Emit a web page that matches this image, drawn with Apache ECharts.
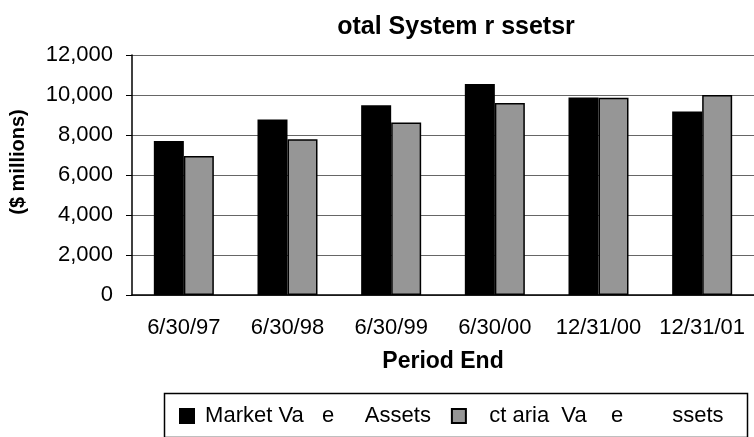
<!DOCTYPE html>
<html>
<head>
  <meta charset="utf-8">
  <script src="https://cdn.jsdelivr.net/npm/echarts@6/dist/echarts.min.js"></script>
  <style>
    html, body { margin: 0; padding: 0; background: #fff; }
    #chart { width: 754px; height: 437px; }
  </style>
</head>
<body>
  <div id="chart"></div>
  <script>
    // data
    var periods = ['6/30/97', '6/30/98', '6/30/99', '6/30/00', '12/31/00', '12/31/01'];
    var marketValue = [7700, 8780, 9490, 10550, 9880, 9170];
    var actuarialValue = [6950, 7790, 8630, 9600, 9860, 10000];
    var seriesNames = [' Market Va   e     Assets', '   ct aria  Va    e        ssets'];

    var font = "'Liberation Sans', Arial, sans-serif";
    var chart = echarts.init(document.getElementById('chart'), null, { renderer: 'canvas' });

    var option = {
      backgroundColor: '#fff',
      animation: false,
      title: {
        text: 'otal System r ssetsr',
        left: 451,
        top: 10,
        textAlign: 'center',
        textStyle: { fontFamily: font, fontSize: 25, fontWeight: 'bold', color: '#000' }
      },
      legend: {
        left: 174,
        top: 400,
        padding: 5,
        itemWidth: 14,
        itemHeight: 14,
        itemGap: 20,
        icon: 'rect',
        textStyle: { fontFamily: font, fontSize: 22, color: '#000' },
        data: seriesNames
      },
      graphic: [
        {
          type: 'rect',
          left: 162,
          top: 391,
          shape: { width: 583, height: 44 },
          style: { fill: 'none', stroke: '#000', lineWidth: 1.5 },
          z: 0
        },
        {
          // y axis title, sits a bit above the plot middle in the original
          type: 'text',
          x: 18,
          y: 162,
          rotation: Math.PI / 2,
          style: {
            text: '($ millions)',
            fontFamily: font, fontSize: 20, fontWeight: 'bold', fill: '#000',
            textAlign: 'center', textVerticalAlign: 'middle'
          }
        }
      ],
      grid: { left: 132, right: 0, top: 55, bottom: 142 },
      xAxis: {
        type: 'category',
        data: periods,
        name: 'Period End',
        nameLocation: 'middle',
        nameGap: 55,
        nameTextStyle: { fontFamily: font, fontSize: 23, fontWeight: 'bold', color: '#000' },
        axisLine: { lineStyle: { color: '#000', width: 1.5 } },
        axisTick: { length: 6, lineStyle: { color: '#000' } },
        axisLabel: { interval: 0, fontFamily: font, fontSize: 22, color: '#000', margin: 22 }
      },
      yAxis: {
        type: 'value',
        min: 0,
        max: 12000,
        interval: 2000,
        axisLine: { show: true, lineStyle: { color: '#000', width: 1.5 } },
        axisTick: { show: true, length: 6, lineStyle: { color: '#000' } },
        splitLine: { lineStyle: { color: '#666', width: 1.2 } },
        axisLabel: {
          fontFamily: font, fontSize: 22, color: '#000', margin: 19,
          formatter: function (v) { return v.toLocaleString('en-US'); }
        }
      },
      series: [
        {
          name: seriesNames[0],
          type: 'bar',
          data: marketValue,
          barWidth: 30,
          barGap: '0%',
          itemStyle: { color: '#000', borderColor: '#000', borderWidth: 1.5 }
        },
        {
          name: seriesNames[1],
          type: 'bar',
          data: actuarialValue,
          barWidth: 30,
          itemStyle: { color: '#969696', borderColor: '#000', borderWidth: 1.5 }
        }
      ]
    };

    chart.setOption(option);
  </script>
</body>
</html>
